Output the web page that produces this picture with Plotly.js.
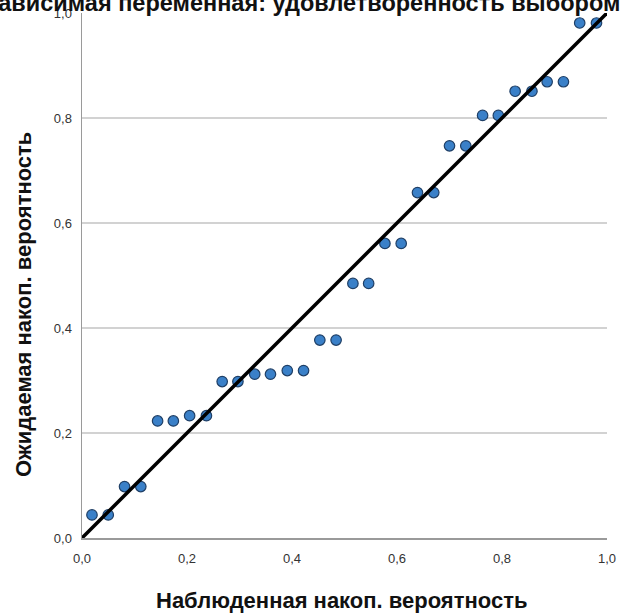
<!DOCTYPE html>
<html>
<head>
<meta charset="utf-8">
<script src="https://cdn.plot.ly/plotly-3.0.1.min.js"></script>
<style>html,body{margin:0;padding:0;background:#fff;}#chart{width:620px;height:616px;}</style>
</head>
<body>
<div id="chart"></div>
<script>
const chartTitle = "Зависимая переменная: удовлетворенность выбором";
const xTitle = "Наблюденная накоп. вероятность";
const yTitle = "Ожидаемая накоп. вероятность";
const observedCum = [0.019,0.050,0.081,0.112,0.144,0.174,0.205,0.237,0.267,0.297,0.329,0.359,0.391,0.422,0.453,0.484,0.516,0.546,0.577,0.608,0.639,0.670,0.700,0.731,0.763,0.793,0.825,0.857,0.886,0.917,0.948,0.980];
const expectedCum = [0.044,0.044,0.098,0.098,0.223,0.223,0.233,0.233,0.298,0.298,0.312,0.312,0.319,0.319,0.377,0.377,0.485,0.485,0.561,0.561,0.658,0.658,0.747,0.747,0.805,0.805,0.851,0.851,0.869,0.869,0.981,0.981];
const refLineX = [0, 1];
const refLineY = [0, 1];
const tickVals = [0, 0.2, 0.4, 0.6, 0.8, 1.0];

const font = "Liberation Sans, Arial, sans-serif";
const data = [
  {x: observedCum, y: expectedCum, type: 'scatter', mode: 'markers',
   marker: {size: 10.5, color: '#3a80c8', line: {color: '#1f3f66', width: 1.2}},
   cliponaxis: false, hoverinfo: 'skip'},
  {x: refLineX, y: refLineY, type: 'scatter', mode: 'lines',
   line: {color: '#000', width: 3.5}, cliponaxis: false, hoverinfo: 'skip'}
];
const layout = {
  width: 620, height: 616,
  margin: {l: 82, r: 13, t: 13, b: 78},
  paper_bgcolor: '#fff', plot_bgcolor: '#fff',
  showlegend: false,
  separators: ', ',
  font: {family: font, color: '#222'},
  title: {text: '<b>' + chartTitle + '</b>', font: {family: font, size: 23.5, color: '#111'},
          x: 0.487, xanchor: 'center', xref: 'container', y: 0.996, yref: 'container', yanchor: 'middle'},
  xaxis: {range: [0, 1], tickvals: tickVals, tickformat: '.1f', showgrid: false, zeroline: false,
          showline: true, linecolor: '#9a9a9a', linewidth: 1.5, ticks: '', ticklabelstandoff: 8,
          tickfont: {family: font, size: 13, color: '#333'}},
  yaxis: {range: [0, 1], tickvals: tickVals, tickformat: '.1f', showgrid: true, gridcolor: '#d2d2d2', gridwidth: 1.5,
          zeroline: false, showline: true, linecolor: '#9a9a9a', linewidth: 1.5, ticks: '', ticklabelstandoff: 6,
          tickfont: {family: font, size: 13, color: '#333'}},
  annotations: [
    {text: '<b>' + xTitle + '</b>', xref: 'paper', yref: 'paper', x: (341.5 - 82) / 525, y: -(600 - 538) / 525,
     xanchor: 'center', yanchor: 'middle', showarrow: false, font: {family: font, size: 22, color: '#111'}},
    {text: '<b>' + yTitle + '</b>', xref: 'paper', yref: 'paper', x: (23.5 - 82) / 525, y: (538 - 304.5) / 525,
     xanchor: 'center', yanchor: 'middle', textangle: -90, showarrow: false, font: {family: font, size: 22, color: '#111'}}
  ]
};
Plotly.newPlot('chart', data, layout, {staticPlot: true});
</script>
</body>
</html>
